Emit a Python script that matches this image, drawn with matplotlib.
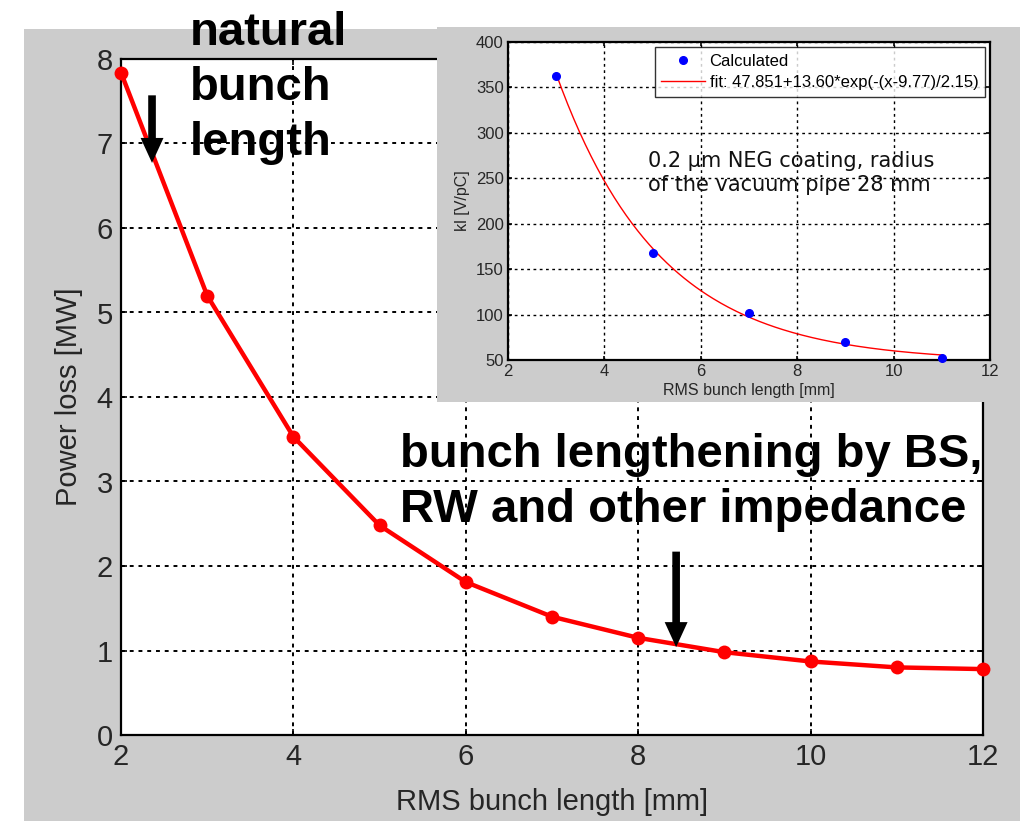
import numpy as np
import matplotlib
matplotlib.use("Agg")
import matplotlib.pyplot as plt
from matplotlib.patches import Rectangle

# Main curve: power loss versus RMS bunch length
bunch_length_mm = [2, 3, 4, 5, 6, 7, 8, 9, 10, 11, 12]
power_loss_mw = [7.84, 5.20, 3.53, 2.48, 1.81, 1.40, 1.15, 0.98, 0.87, 0.80, 0.78]

# Inset: loss factor versus RMS bunch length
kl_length_mm = [3, 5, 7, 9, 11]
kl_v_per_pc = [363, 168, 102, 70, 52]

# Exponential fit parameters shown in the inset legend
fit_offset, fit_amp, fit_x0, fit_tau = 47.851, 13.60, 9.77, 2.15

main_xticks = [2, 4, 6, 8, 10, 12]
main_yticks = [0, 1, 2, 3, 4, 5, 6, 7, 8]
inset_xticks = [2, 4, 6, 8, 10, 12]
inset_yticks = [50, 100, 150, 200, 250, 300, 350, 400]

GREY = "#cccccc"
TICK_COLOR = "#262626"
FONT = "Liberation Sans"

fig = plt.figure(figsize=(10.23, 8.21), dpi=100)
fig.patch.set_facecolor("white")

# grey panel behind the main plot
fig.add_artist(Rectangle((24 / 1023, 0), (1020 - 24) / 1023, (821 - 29) / 821,
                         transform=fig.transFigure, facecolor=GREY,
                         edgecolor="none", zorder=-10))


def style_axes(ax, fs, grid_lw):
    ax.set_facecolor("white")
    for sp in ax.spines.values():
        sp.set_color("black")
        sp.set_linewidth(1.6)
    ax.grid(True, color="black", linestyle=(0, (2, 2.5)), linewidth=grid_lw)
    ax.tick_params(direction="in", length=4, width=1.2, colors="black",
                   labelcolor=TICK_COLOR, labelsize=fs, top=True, right=True)
    for lab in ax.get_xticklabels() + ax.get_yticklabels():
        lab.set_fontfamily(FONT)


# ---- main axes ----
ax = fig.add_axes([121 / 1023, (821 - 735) / 821, (983 - 121) / 1023, (735 - 59) / 821])
ax.plot(bunch_length_mm, power_loss_mw, color="red", linewidth=3.2,
        marker="o", markersize=10, markeredgewidth=0, zorder=5, clip_on=False)
ax.set_xlim(2, 12)
ax.set_ylim(0, 8)
ax.set_xticks(main_xticks)
ax.set_yticks(main_yticks)
style_axes(ax, 21, 1.4)
ax.tick_params(pad=6)
ax.set_xlabel("RMS bunch length [mm]", fontsize=21, fontfamily=FONT,
              color=TICK_COLOR, labelpad=12)
ax.set_ylabel("Power loss [MW]", fontsize=21, fontfamily=FONT,
              color=TICK_COLOR, labelpad=10)

# arrows marking the natural and the lengthened bunch
arrow_kw = dict(arrowstyle="simple,head_length=18,head_width=16.5,tail_width=5.5",
                mutation_scale=1, color="black", lw=0, shrinkA=0, shrinkB=0)
natural_tail, natural_tip = (2.36, 7.57), (2.36, 6.77)
lengthened_tail, lengthened_tip = (8.44, 2.17), (8.44, 1.04)
ax.annotate("", xy=natural_tip, xytext=natural_tail, arrowprops=arrow_kw, zorder=6)
ax.annotate("", xy=lengthened_tip, xytext=lengthened_tail, arrowprops=arrow_kw, zorder=6)

# multi-line labels: the baseline given is that of the last line
fig.text(190 / 1023, 1 - 155 / 821, "natural\nbunch\nlength", fontsize=34,
         fontweight="bold", fontfamily=FONT, ha="left", va="baseline",
         linespacing=1.32, zorder=20)
fig.text(400 / 1023, 1 - 522 / 821,
         "bunch lengthening by BS,\nRW and other impedance", fontsize=34,
         fontweight="bold", fontfamily=FONT, ha="left", va="baseline",
         linespacing=1.32, zorder=20)

# ---- inset panel ----
fig.add_artist(Rectangle((437 / 1023, 1 - 402 / 821), (1020 - 437) / 1023,
                         (402 - 27) / 821, transform=fig.transFigure,
                         facecolor=GREY, edgecolor="none", zorder=8))
ins = fig.add_axes([508 / 1023, 1 - 360 / 821, (990 - 508) / 1023, (360 - 42) / 821])
ins.set_zorder(9)
xfit = np.linspace(min(kl_length_mm), max(kl_length_mm), 200)
yfit = fit_offset + fit_amp * np.exp(-(xfit - fit_x0) / fit_tau)
ins.plot(kl_length_mm, kl_v_per_pc, linestyle="none", marker="o",
         markersize=5.5, color="blue", label="Calculated", zorder=5, clip_on=False)
ins.plot(xfit, yfit, color="red", linewidth=1.0,
         label="fit: 47.851+13.60*exp(-(x-9.77)/2.15)", zorder=4)
ins.set_xlim(2, 12)
ins.set_ylim(50, 400)
ins.set_xticks(inset_xticks)
ins.set_yticks(inset_yticks)
style_axes(ins, 12, 1.0)
ins.tick_params(length=3, pad=3)
ins.set_xlabel("RMS bunch length [mm]", fontsize=11.5, fontfamily=FONT,
               color=TICK_COLOR, labelpad=3)
ins.set_ylabel("kl [V/pC]", fontsize=11.5, fontfamily=FONT,
               color=TICK_COLOR, labelpad=4)
leg = ins.legend(loc="upper right", prop={"family": FONT, "size": 12},
                 frameon=True, fancybox=False, edgecolor="black",
                 borderpad=0.4, handlelength=2.6, labelspacing=0.4,
                 borderaxespad=0.3, handletextpad=0.3)
leg.get_frame().set_linewidth(1.0)
ins.text(0.29, 0.588, "0.2 \u00b5m NEG coating, radius\nof the vacuum pipe 28 mm",
         transform=ins.transAxes, fontsize=15, fontfamily="DejaVu Sans",
         ha="left", va="center", linespacing=1.25, color="#111111")

fig.savefig("out.png", dpi=100)
